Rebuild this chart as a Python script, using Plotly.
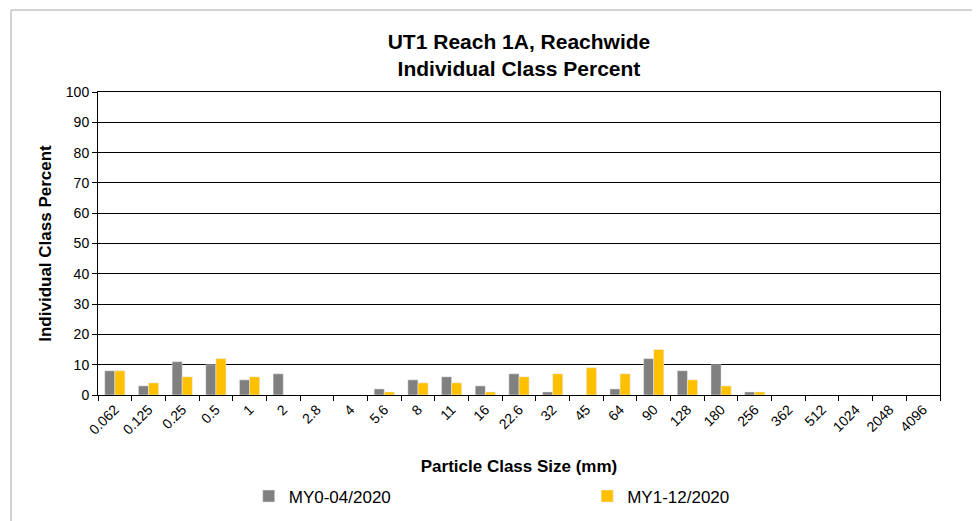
import plotly.graph_objects as go

sizes = ['0.062', '0.125', '0.25', '0.5', '1', '2', '2.8', '4', '5.6', '8', '11', '16', '22.6',
         '32', '45', '64', '90', '128', '180', '256', '362', '512', '1024', '2048', '4096']
my0 = [8, 3, 11, 10, 5, 7, 0, 0, 2, 5, 6, 3, 7, 1, 0, 2, 12, 8, 10, 1, 0, 0, 0, 0, 0]
my1 = [8, 4, 6, 12, 6, 0, 0, 0, 1, 4, 4, 1, 6, 7, 9, 7, 15, 5, 3, 1, 0, 0, 0, 0, 0]

font = 'Liberation Sans Narrow, Arial Narrow, Liberation Sans, sans-serif'

fig = go.Figure()
fig.add_trace(go.Bar(x=sizes, y=my0, name='MY0-04/2020', marker_color='#808080', legend='legend'))
fig.add_trace(go.Bar(x=sizes, y=my1, name='MY1-12/2020', marker_color='#FFC000', legend='legend2'))

leg = dict(xanchor='left', yanchor='middle', y=-0.335, font=dict(size=17, family=font),
           itemwidth=30, bgcolor='rgba(0,0,0,0)')

fig.update_layout(
    width=980, height=521,
    margin=dict(l=90, r=48, t=84, b=134, autoexpand=False),
    paper_bgcolor='white', plot_bgcolor='white',
    font=dict(family=font, color='black', size=13),
    title=dict(text='<b>UT1 Reach 1A, Reachwide<br>Individual Class Percent</b>',
               x=0.5, xanchor='center', xref='paper', y=0.922, yanchor='top',
               font=dict(size=21, family=font)),
    bargap=0.4, bargroupgap=0,
    showlegend=True,
    legend=dict(leg, x=0.179),
    legend2=dict(leg, x=0.581),
    shapes=[dict(type='rect', xref='paper', yref='paper', x0=-0.1033, x1=1.1, y0=-0.5, y1=1.2706,
                 line=dict(color='#a6a6a6', width=1), layer='below')],
)
fig.update_xaxes(
    type='category', tickangle=-45, ticks='outside', tickson='boundaries', ticklen=5,
    tickcolor='black', showline=True, linecolor='black', linewidth=1, mirror=True,
    tickfont=dict(size=14), showgrid=False, automargin=False,
    title=dict(text='<b>Particle Class Size (mm)</b>', font=dict(size=17), standoff=23),
)
fig.update_yaxes(
    range=[0, 100], dtick=10, ticks='outside', ticklen=5, tickcolor='black',
    showline=True, linecolor='black', linewidth=1, mirror=True, automargin=False,
    showgrid=True, gridcolor='black', gridwidth=1, tickfont=dict(size=14),
    title=dict(text='<b>Individual Class Percent</b>', font=dict(size=17), standoff=9),
    zeroline=False,
)

fig.write_html('out.html')
